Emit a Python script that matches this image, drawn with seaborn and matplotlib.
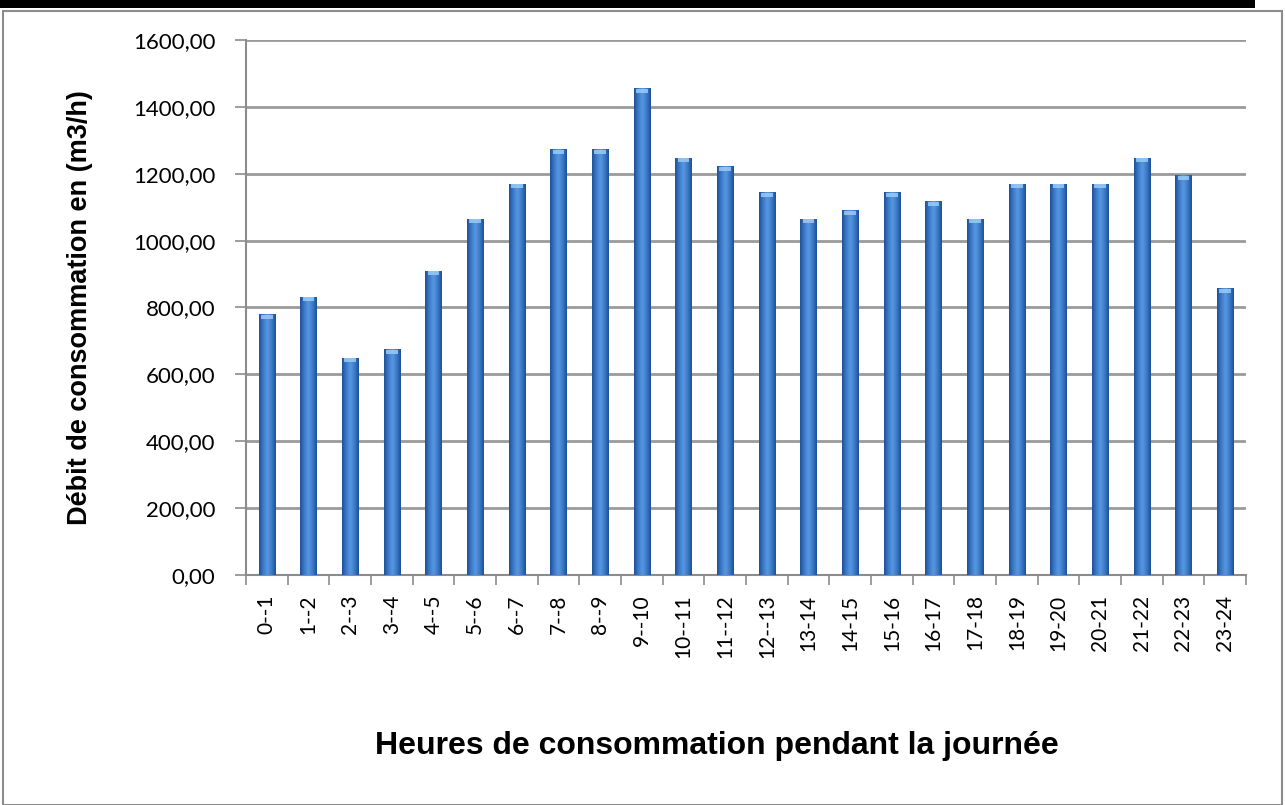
import matplotlib
matplotlib.use("Agg")
import matplotlib.pyplot as plt
from matplotlib.patches import Rectangle
from matplotlib.colors import LinearSegmentedColormap
from matplotlib.ticker import FixedLocator, FuncFormatter
import numpy as np
import seaborn as sns
import pandas as pd

# Hourly water consumption flow (m3/h)
hours = ["0--1", "1--2", "2--3", "3--4", "4--5", "5--6", "6--7", "7--8", "8--9",
         "9--10", "10--11", "11--12", "12--13", "13-14", "14-15", "15-16", "16-17",
         "17-18", "18-19", "19-20", "20-21", "21-22", "22-23", "23-24"]
flow = [780, 832, 650, 676, 910, 1066, 1170, 1274, 1274, 1456, 1248, 1222,
        1144, 1066, 1092, 1144, 1118, 1066, 1170, 1170, 1170, 1248, 1196, 858]
y_ticks = [0, 200, 400, 600, 800, 1000, 1200, 1400, 1600]

df = pd.DataFrame({"hour": hours, "flow": flow})

sns.set_theme(style="white")
plt.rcParams["font.family"] = ["Lato", "DejaVu Sans"]

W, H = 1285, 805
fig = plt.figure(figsize=(W / 100, H / 100), dpi=100)
ax = fig.add_axes([246 / W, 1 - 575 / H, (1246 - 246) / W, (575 - 40) / H])

# outer frame and black band at the top
fig.patches.append(Rectangle((3 / W, 0.0), 1279 / W, 1 - 11 / H,
                             transform=fig.transFigure, fill=False,
                             edgecolor="#8c8c8c", linewidth=1.5, zorder=0))
fig.patches.append(Rectangle((0, 1 - 8 / H), 1255 / W, 8 / H,
                             transform=fig.transFigure, facecolor="black",
                             edgecolor="none", zorder=1))

sns.barplot(data=df, x="hour", y="flow", color="#3473C4", saturation=1,
            width=0.4, ax=ax, zorder=3)

# cylinder-like shading across each bar
shade = LinearSegmentedColormap.from_list(
    "shade", ["#1F4F95", "#3A7BCB", "#5A97E0", "#3A7BCB", "#1F4F95"])
grad = np.linspace(0, 1, 64).reshape(1, -1)
for bar in list(ax.patches):
    x0, w, h = bar.get_x(), bar.get_width(), bar.get_height()
    bar.set_edgecolor("none")
    im = ax.imshow(grad, cmap=shade, aspect="auto", extent=(x0, x0 + w, 0, h),
                   zorder=4, interpolation="bicubic")
    im.set_clip_path(bar)
    ax.add_patch(Rectangle((x0 + w * 0.15, h - 14), w * 0.7, 12,
                           facecolor="#9FD0F5", edgecolor="none", zorder=5,
                           alpha=0.8))

ax.set_ylim(0, 1600)
ax.set_xlim(-0.5, len(hours) - 0.5)
ax.yaxis.set_major_locator(FixedLocator(y_ticks))
ax.yaxis.set_major_formatter(FuncFormatter(lambda v, p: f"{v:.2f}".replace(".", ",")))
ax.grid(axis="y", color="#9a9a9a", linewidth=2, zorder=0)
ax.set_axisbelow(True)

for s in ["top", "right"]:
    ax.spines[s].set_visible(False)
for s in ["left", "bottom"]:
    ax.spines[s].set_color("#8c8c8c")
    ax.spines[s].set_linewidth(1.5)

ax.tick_params(axis="y", which="major", direction="out", length=8, width=1.2,
               color="#8c8c8c", left=True, labelsize=16, pad=14,
               labelcolor="black")
ax.tick_params(axis="x", which="major", length=0, labelsize=15, pad=14,
               labelrotation=90, labelcolor="black")
ax.xaxis.set_minor_locator(FixedLocator([i - 0.5 for i in range(len(hours) + 1)]))
ax.tick_params(axis="x", which="minor", direction="out", length=7, width=1.2,
               color="#8c8c8c", bottom=True)

ax.set_xlabel("")
ax.set_ylabel("")
fig.text(717 / W, 1 - 746 / H, "Heures de consommation pendant la journée",
         ha="center", va="center", fontsize=23, fontweight="bold", color="black",
         family=["Liberation Sans", "DejaVu Sans"])
fig.text(80 / W, 1 - 308 / H, "Débit de consommation en (m3/h)",
         ha="center", va="center", rotation=90, fontsize=19.5, fontweight="bold",
         color="black", family=["Liberation Sans", "DejaVu Sans"])

fig.savefig("out.png", dpi=100, facecolor="white")
